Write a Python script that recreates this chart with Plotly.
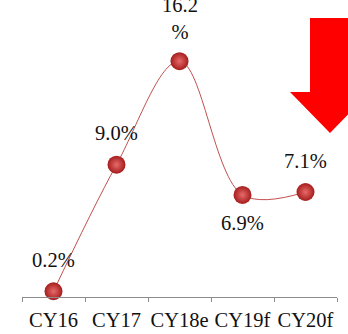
import plotly.graph_objects as go

categories = ["CY16", "CY17", "CY18e", "CY19f", "CY20f"]
values = [0.2, 9.0, 16.2, 6.9, 7.1]
labels = ["0.2%", "9.0%", "16.2<br>%", "6.9%", "7.1%"]
label_shift = [31.5, 31.5, 43, -28.5, 31.5]

W, H = 348, 334
ml, mr, mt, mb = 22, 11, 0, 37
pw, ph = W - ml - mr, H - mt - mb
FONT = "Liberation Serif"

def px(x):
    return (x - ml) / pw

def py(y):
    return 1 - (y - mt) / ph

fig = go.Figure()
fig.add_trace(go.Scatter(
    x=categories, y=values,
    mode="lines+markers",
    line=dict(color="#c0504d", width=1, shape="spline", smoothing=1),
    marker=dict(size=18, color="#a51c1c",
                gradient=dict(type="radial", color="#e86a6a"),
                line=dict(width=0)),
    cliponaxis=False,
))

for c, v, t, s in zip(categories, values, labels, label_shift):
    fig.add_annotation(x=c, y=v, text=t, showarrow=False, yanchor="middle",
                       yshift=s, font=dict(family=FONT, size=20.5, color="#111111"))

arrow = [(310, 18), (350, 18), (350, 92), (370, 92), (330, 133), (290, 92), (310, 92)]
path = "M " + " L ".join(f"{px(a):.4f},{py(b):.4f}" for a, b in arrow) + " Z"
fig.add_shape(type="path", path=path, xref="paper", yref="paper",
              fillcolor="#ff0000", line=dict(width=0), layer="above")

fig.update_layout(
    width=W, height=H,
    margin=dict(l=ml, r=mr, t=mt, b=mb, autoexpand=False),
    paper_bgcolor="white", plot_bgcolor="white",
    showlegend=False,
    xaxis=dict(type="category", range=[-0.5, 4.5], showline=True, linecolor="#8c8c8c",
               linewidth=1, ticks="outside", tickson="boundaries", ticklen=4,
               tickcolor="#8c8c8c", showgrid=False, zeroline=False,
               ticklabelstandoff=4, tickangle=0, automargin=False,
               tickfont=dict(family=FONT, size=20.5, color="#111111")),
    yaxis=dict(range=[-0.2, 20.45], visible=False, showgrid=False, zeroline=False),
)

fig.write_html("out.html")
